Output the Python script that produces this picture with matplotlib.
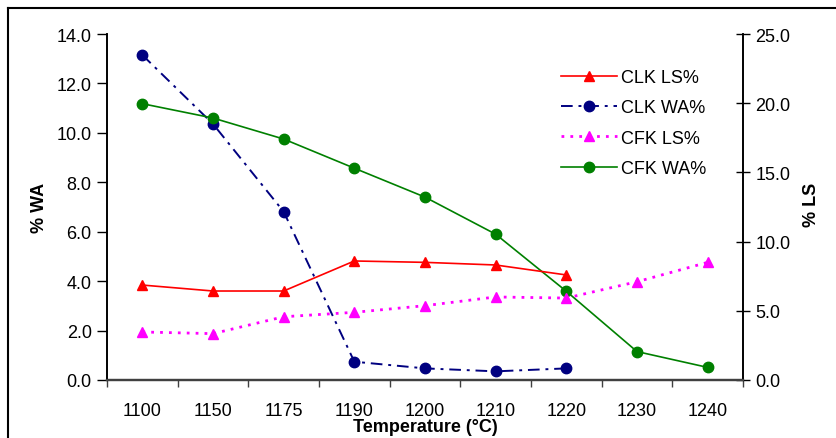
import numpy as np
import matplotlib.pyplot as plt
from matplotlib.lines import Line2D

plt.rcParams['font.family'] = ['Liberation Sans', 'DejaVu Sans']

# data
temps = ['1100', '1150', '1175', '1190', '1200', '1210', '1220', '1230', '1240']
clk_wa = [13.15, 10.36, 6.81, 0.74, 0.47, 0.35, 0.47]
cfk_wa = [11.18, 10.6, 9.75, 8.57, 7.4, 5.9, 3.59, 1.15, 0.51]
clk_ls = [6.86, 6.43, 6.43, 8.6, 8.5, 8.31, 7.59]
cfk_ls = [3.47, 3.35, 4.57, 4.89, 5.37, 6.0, 5.92, 7.1, 8.5]

W, H = 837, 439
fig = plt.figure(figsize=(W / 100, H / 100), dpi=100)
ax = fig.add_axes([107 / W, 1 - 381 / H, (743 - 107) / W, (381 - 35) / H])
ax2 = ax.twinx()

x = np.arange(len(temps))

# WA on the left axis
l_clkwa, = ax.plot(x[:len(clk_wa)], clk_wa, color='#000080', lw=1.4,
                   linestyle=(0, (6, 3, 1.5, 3)), marker='o', ms=7.5,
                   label='CLK WA%')
l_cfkwa, = ax.plot(x, cfk_wa, color='#008000', lw=1.2, marker='o', ms=7.5,
                   label='CFK WA%')

# LS on the right axis
l_clkls, = ax2.plot(x[:len(clk_ls)], clk_ls, color='#FF0000', lw=1.2,
                    marker='^', ms=7.5, label='CLK LS%')
l_cfkls, = ax2.plot(x, cfk_ls, color='#FF00FF', lw=2.0,
                    linestyle=(0, (1, 2.2)), marker='^', ms=7.5,
                    label='CFK LS%')

ax.set_xlim(-0.5, len(temps) - 0.5)
ax.set_ylim(0, 14)
ax2.set_ylim(0, 25)
ax.set_yticks(np.arange(0, 14.1, 2))
ax.set_yticklabels(['%.1f' % v for v in np.arange(0, 14.1, 2)])
ax2.set_yticks(np.arange(0, 25.1, 5))
ax2.set_yticklabels(['%.1f' % v for v in np.arange(0, 25.1, 5)])

ax.set_xticks(x)
ax.set_xticklabels(temps)
ax.set_xticks(np.arange(-0.5, len(temps), 1), minor=True)
ax.tick_params(axis='x', which='major', length=0, labelsize=13, pad=16)
ax.tick_params(axis='x', which='minor', length=5, width=1, color='#404040')
ax.tick_params(axis='y', length=7, width=1, labelsize=13, pad=4)
ax2.tick_params(axis='y', direction='inout', length=10, width=1,
                labelsize=13, pad=4)

for a in (ax, ax2):
    a.spines['top'].set_visible(False)
    a.spines['left'].set_linewidth(1.2)
    a.spines['right'].set_linewidth(1.2)
    a.spines['bottom'].set_linewidth(1.6)
    a.spines['bottom'].set_color('#404040')
    a.patch.set_visible(False)

fig.text(40 / W, 1 - 208 / H, '% WA', rotation=90, ha='center', va='center',
         fontsize=13, fontweight='bold')
fig.text(812 / W, 1 - 205 / H, '% LS', rotation=90, ha='center', va='center',
         fontsize=13, fontweight='bold')
fig.text(425 / W, 1 - 428 / H, 'Temperature (°C)', ha='center', va='center',
         fontsize=13, fontweight='bold')

ax2.legend(handles=[l_clkls, l_clkwa, l_cfkls, l_cfkwa], loc='upper left',
           bbox_to_anchor=(552 / W, 1 - 61 / H), bbox_transform=fig.transFigure,
           frameon=False, fontsize=13, handlelength=3.1, handletextpad=0.2,
           labelspacing=0.74, borderpad=0)

# outer border (top and left visible)
fig.add_artist(Line2D([8 / W, 8 / W], [0, 1 - 9 / H], color='black', lw=1.5,
                      transform=fig.transFigure))
fig.add_artist(Line2D([8 / W, 1], [1 - 9 / H, 1 - 9 / H], color='black', lw=1.5,
                      transform=fig.transFigure))

fig.savefig('out.png', dpi=100)
